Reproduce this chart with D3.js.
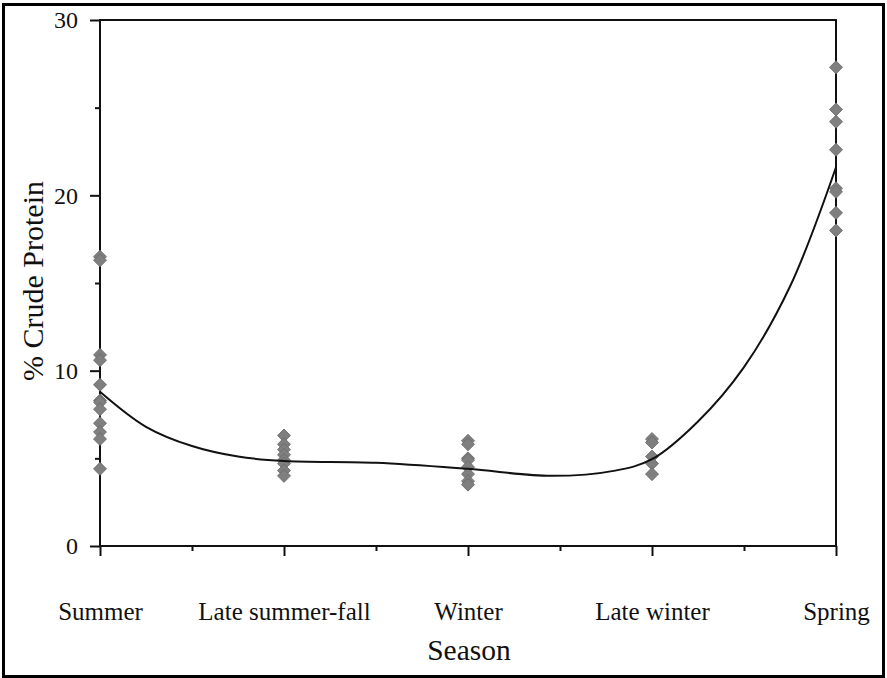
<!DOCTYPE html>
<html lang="en">
<head>
<meta charset="UTF-8">
<title>Crude protein by season</title>
<script src="https://d3js.org/d3.v7.min.js"></script>
<style>
    body { margin: 0; background: #fff; }
    text { font-family: "Liberation Serif", "DejaVu Serif", serif; fill: #111; }
</style>
</head>
<body>
<div id="chart"></div>
<script>
    // seasons along the x axis
    var seasons = ["Summer", "Late summer-fall", "Winter", "Late winter", "Spring"]
    var yTicks = [0, 10, 20, 30]
    var yMinor = [5, 15, 25]
    var xMinor = [0.5, 1.5, 2.5, 3.5]

    // measured % crude protein per season (index into seasons)
    var summer = [16.5, 16.3, 10.9, 10.6, 9.2, 8.3, 8.2, 7.8, 7.0, 6.5, 6.1, 4.4]
    var lateSummerFall = [6.3, 5.8, 5.5, 5.2, 4.9, 4.7, 4.3, 4.0]
    var winter = [6.0, 5.8, 5.0, 4.9, 4.5, 4.1, 3.7, 3.5]
    var lateWinter = [6.1, 5.9, 5.1, 4.7, 4.1]
    var spring = [27.3, 24.9, 24.2, 22.6, 20.4, 20.2, 19.0, 18.0]

    // fitted curve
    var curvePos = [0, 0.25, 0.5, 0.75, 1.0, 1.5, 2.0, 2.45, 2.8, 3.0, 3.25, 3.5, 3.75, 4.0]
    var curveVal = [8.8, 6.8, 5.7, 5.1, 4.85, 4.75, 4.4, 4.0, 4.3, 4.95, 7.1, 10.2, 14.8, 21.6]

    var width = 887, height = 678
    var plotLeft = 100, plotRight = 836, plotTop = 20, plotBottom = 546

    var svg = d3.select("#chart").append("svg")
        .attr("width", width)
        .attr("height", height)

    // outer frame
    svg.append("rect")
        .attr("x", 3.5).attr("y", 4.5)
        .attr("width", 880).attr("height", 672)
        .attr("fill", "none")
        .attr("stroke", "#000")
        .attr("stroke-width", 3)

    var x = d3.scaleLinear().domain([0, 4]).range([plotLeft, plotRight])
    var y = d3.scaleLinear().domain([0, 30]).range([plotBottom, plotTop])

    // plot box
    svg.append("rect")
        .attr("x", plotLeft).attr("y", plotTop)
        .attr("width", plotRight - plotLeft).attr("height", plotBottom - plotTop)
        .attr("fill", "none")
        .attr("stroke", "#111")
        .attr("stroke-width", 2)

    var yAxis = svg.append("g")
        .attr("transform", "translate(" + plotLeft + ",0)")
        .call(d3.axisLeft(y).tickValues(yTicks).tickSize(10).tickPadding(12).tickFormat(d3.format("d")))
    yAxis.select(".domain").remove()
    yAxis.selectAll("line").attr("stroke", "#111").attr("stroke-width", 2)
    yAxis.selectAll("text").style("font-size", "24px").attr("fill", "#111")

    var yAxisMinor = svg.append("g")
        .attr("transform", "translate(" + plotLeft + ",0)")
        .call(d3.axisLeft(y).tickValues(yMinor).tickSize(5).tickFormat(""))
    yAxisMinor.select(".domain").remove()
    yAxisMinor.selectAll("line").attr("stroke", "#111").attr("stroke-width", 2)

    var xAxis = svg.append("g")
        .attr("transform", "translate(0," + plotBottom + ")")
        .call(d3.axisBottom(x).tickValues([0, 1, 2, 3, 4]).tickSize(10).tickPadding(46)
            .tickFormat(function(d) { return seasons[d] }))
    xAxis.select(".domain").remove()
    xAxis.selectAll("line").attr("stroke", "#111").attr("stroke-width", 2)
    xAxis.selectAll("text").style("font-size", "25px").attr("fill", "#111")

    var xAxisMinor = svg.append("g")
        .attr("transform", "translate(0," + plotBottom + ")")
        .call(d3.axisBottom(x).tickValues(xMinor).tickSize(5).tickFormat(""))
    xAxisMinor.select(".domain").remove()
    xAxisMinor.selectAll("line").attr("stroke", "#111").attr("stroke-width", 2)

    // axis titles
    svg.append("text")
        .attr("x", 469).attr("y", 660)
        .attr("text-anchor", "middle")
        .style("font-size", "29.5px")
        .text("Season")

    svg.append("text")
        .attr("transform", "translate(43,281) rotate(-90)")
        .attr("text-anchor", "middle")
        .style("font-size", "30px")
        .text("% Crude Protein")

    // points
    var groups = [summer, lateSummerFall, winter, lateWinter, spring]
    var points = []
    groups.forEach(function(vals, i) {
        vals.forEach(function(v) { points.push({ s: i, v: v }) })
    })

    var diamond = d3.symbol().type(d3.symbolSquare).size(85)
    svg.append("g").selectAll("path")
        .data(points)
        .enter()
        .append("path")
        .attr("d", diamond)
        .attr("transform", function(d) {
            return "translate(" + x(d.s) + "," + y(d.v) + ") rotate(45)"
        })
        .attr("fill", "#7f7f7f")
        .attr("stroke", "#6a6a6a")
        .attr("stroke-width", 0.8)

    // fitted curve
    var line = d3.line()
        .x(function(d, i) { return x(curvePos[i]) })
        .y(function(d) { return y(d) })
        .curve(d3.curveCatmullRom.alpha(0.5))
    svg.append("path")
        .datum(curveVal)
        .attr("d", line)
        .attr("fill", "none")
        .attr("stroke", "#111")
        .attr("stroke-width", 2)
</script>
</body>
</html>
